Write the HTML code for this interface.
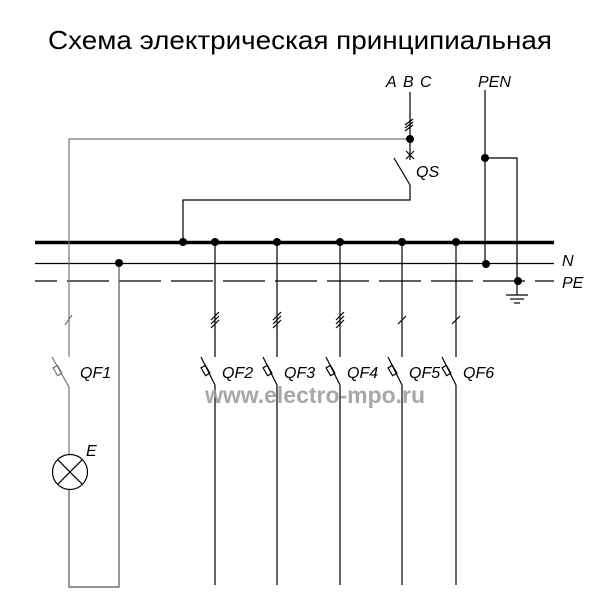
<!DOCTYPE html>
<html><head><style>
html,body{margin:0;padding:0;background:#fff;}
svg{display:block;}
text{font-family:"Liberation Sans",sans-serif;}
</style></head><body>
<svg width="600" height="600" viewBox="0 0 600 600" xmlns="http://www.w3.org/2000/svg">
<text x="48" y="49" font-size="26" textLength="504" lengthAdjust="spacingAndGlyphs" fill="#000">Схема электрическая принципиальная</text>
<g stroke="#000" fill="none" stroke-width="1.2">
<line x1="35" y1="242.5" x2="554" y2="242.5" stroke-width="3.5"/>
<line x1="35" y1="263.5" x2="554" y2="263.5"/>
<line x1="35" y1="281" x2="554" y2="281" stroke-dasharray="22,10,42,10,42,10,42,10,42,10,42,10,42,10,42,10,42,10,42,10,42,10,42,10"/>
<line x1="410" y1="92" x2="410" y2="160"/>
<line x1="405" y1="125" x2="413" y2="119"/><line x1="405" y1="128" x2="413" y2="122"/><line x1="405" y1="131" x2="413" y2="125"/>
<line x1="406" y1="151" x2="414" y2="159"/><line x1="414" y1="151" x2="406" y2="159"/>
<line x1="394" y1="158" x2="410" y2="185"/>
<polyline points="410,185 410,200 183,200 183,242"/>
<polyline points="410,139 69,139 69,357" stroke="#777"/>
<line x1="65" y1="325" x2="72" y2="315" stroke="#777"/>
<line x1="52" y1="357" x2="69" y2="387" stroke="#777"/>
<rect x="55" y="366" width="5" height="9" transform="rotate(-30 57.5 370.5)" stroke="#777"/>
<line x1="69" y1="387" x2="69" y2="454" stroke="#777"/>
<circle cx="70" cy="472" r="17.5"/>
<line x1="57.6" y1="459.6" x2="82.4" y2="484.4"/><line x1="82.4" y1="459.6" x2="57.6" y2="484.4"/>
<polyline points="69,490 69,587 119,587 119,263" stroke="#555"/>
<line x1="485" y1="90" x2="485" y2="263"/>
<polyline points="485,158 517,158 517,295"/>
<line x1="506" y1="295" x2="528" y2="295"/>
<line x1="510" y1="299" x2="524" y2="299"/>
<line x1="514" y1="303" x2="520" y2="303"/>
</g>
<g stroke="#000" fill="none" stroke-width="1.2">
<path d="M215 242V357M201 357L215 385M215 385V585M211 328l8-8M211 324l8-8M211 320l8-8"/>
<rect x="203" y="366" width="5" height="9" transform="rotate(-30 205.5 370.5)"/>
<path d="M277 242V357M263 357L277 385M277 385V585M273 328l8-8M273 324l8-8M273 320l8-8"/>
<rect x="265" y="366" width="5" height="9" transform="rotate(-30 267.5 370.5)"/>
<path d="M340 242V357M326 357L340 385M340 385V585M336 328l8-8M336 324l8-8M336 320l8-8"/>
<rect x="328" y="366" width="5" height="9" transform="rotate(-30 330.5 370.5)"/>
<path d="M402 242V357M388 357L402 385M402 385V585M398 324l8-8"/>
<rect x="390" y="366" width="5" height="9" transform="rotate(-30 392.5 370.5)"/>
<path d="M456 242V357M442 357L456 385M456 385V585M452 324l8-8"/>
<rect x="444" y="366" width="5" height="9" transform="rotate(-30 446.5 370.5)"/>
</g>
<g fill="#000">
<circle cx="410" cy="139" r="4"/>
<circle cx="485" cy="158" r="4"/>
<circle cx="183" cy="242" r="4"/><circle cx="215" cy="242" r="4"/><circle cx="277" cy="242" r="4"/>
<circle cx="340" cy="242" r="4"/><circle cx="402" cy="242" r="4"/><circle cx="456" cy="242" r="4"/>
<circle cx="119" cy="263" r="4"/><circle cx="486" cy="264" r="4"/><circle cx="518" cy="281" r="4"/>
</g>
<g font-size="16" font-style="italic" fill="#000">
<text x="386" y="87">A</text><text x="403" y="87">B</text><text x="420" y="87">C</text>
<text x="478" y="87">PEN</text>
<text x="416" y="177">QS</text>
<text x="562" y="266">N</text><text x="562" y="288">PE</text>
<text x="80" y="378">QF1</text>
<text x="222" y="378">QF2</text><text x="284" y="378">QF3</text><text x="347" y="378">QF4</text>
<text x="409" y="378">QF5</text><text x="463" y="378">QF6</text>
<text x="86" y="456">E</text>
</g>
<text x="205" y="403" font-size="23" font-weight="bold" fill="#999" fill-opacity="0.85" textLength="220" lengthAdjust="spacingAndGlyphs">www.electro-mpo.ru</text>
</svg>
</body></html>
